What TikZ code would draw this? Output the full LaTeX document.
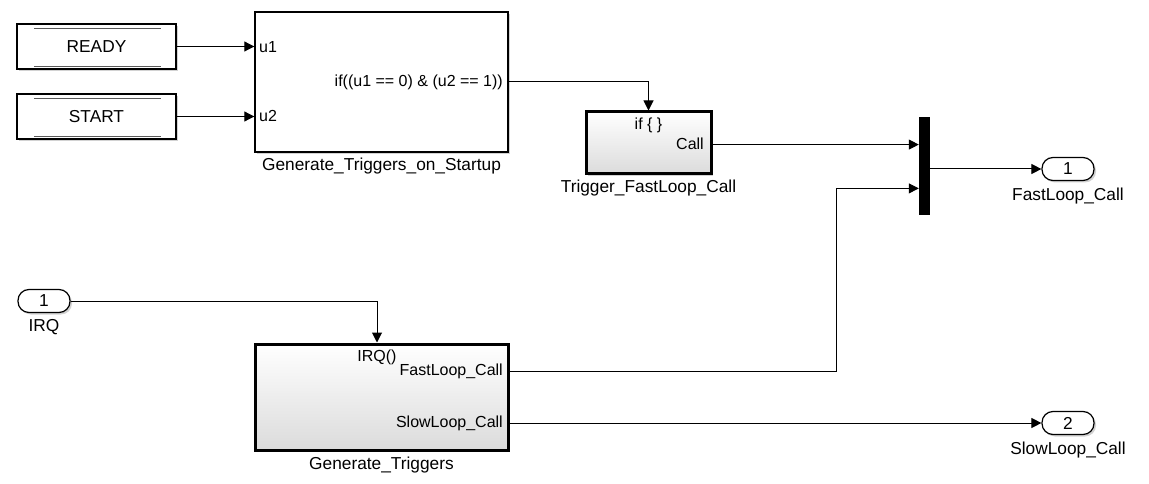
\documentclass[tikz,border=0pt]{standalone}
\usepackage{fontspec}
\setmainfont{Liberation Sans}
\usepackage{tikz}
\usetikzlibrary{arrows.meta,positioning,calc,shadows}
\tikzset{
  sfont/.style  ={font=\fontsize{16}{19}\selectfont},
  bfont/.style  ={font=\fontsize{17.3}{20}\selectfont},
  shd/.style    ={drop shadow={shadow xshift=2pt, shadow yshift=-2pt,
                  opacity=0.35, fill=gray}},
  fromblk/.style={draw, line width=1.4pt, fill=white, shd, bfont,
                  minimum width=159pt, minimum height=45pt, inner sep=0pt},
  mainblk/.style={draw, line width=1.4pt, fill=white, shd,
                  minimum width=#1, inner sep=0pt},
  mainblk/.default=253pt,
  subblk/.style ={draw, line width=3pt, top color=white,
                  bottom color=gray!28, shd, inner sep=0pt},
  muxbar/.style ={draw, fill=black, minimum width=10pt,
                  minimum height=97pt, inner sep=0pt},
  portblk/.style={draw, line width=1.2pt, rounded corners=11pt, fill=white,
                  shd, bfont, minimum width=52pt, minimum height=23pt,
                  inner sep=0pt},
  ptxt/.style   ={sfont, inner sep=0pt},
  lbl/.style    ={bfont, inner sep=1pt},
  arr/.style    ={-{Triangle[length=10pt,width=10pt]}, line width=1pt},
  ln/.style     ={line width=1pt},
}
\begin{document}
\begin{tikzpicture}[x=1pt,y=-1pt]
  \useasboundingbox[fill=white] (0,0) rectangle (1149,484);
  % source blocks
  \node[fromblk] (ready) at (96.5,46.5) {READY};
  \node[fromblk] (start) at (96.5,116.5) {START};
  \foreach \b in {ready,start}{
    \draw[gray!70!black, line width=1.4pt]
      ($(\b.north west)+(18,5)$) -- ($(\b.north east)+(-16,5)$);
    \draw[gray!70!black, line width=1.4pt]
      ($(\b.south west)+(18,-3)$) -- ($(\b.south east)+(-16,-3)$);
  }
  % startup trigger block
  \node[mainblk, minimum height=140pt] (startup) at (381.5,82) {};
  \node[ptxt, anchor=west] (u1txt) at (259,47) {u1};
  \node[ptxt, anchor=west] (u2txt) at (259,116) {u2};
  \node[ptxt, anchor=east] (iftxt) at (503,82) {if((u1 == 0) \& (u2 == 1))};
  \node[lbl, below=4pt of startup] (startuplbl) {Generate\_Triggers\_on\_Startup};
  % if action block
  \node[subblk, minimum width=125pt, minimum height=62pt] (trig) at (648.5,143) {};
  \node[ptxt, anchor=north] (iftop) at ($(trig.north)+(0,7)$) {if \{ \}};
  \node[ptxt, anchor=east] (calltxt) at (704,144) {Call};
  \node[lbl, below=3pt of trig] (triglbl) {Trigger\_FastLoop\_Call};
  % mux
  \node[muxbar] (mux) at (924,166) {};
  \coordinate (muxin1) at ($(mux.north west)!0.28!(mux.south west)$);
  \coordinate (muxin2) at ($(mux.north west)!0.73!(mux.south west)$);
  % ports
  \node[portblk] (irq) at (44,301) {1};
  \node[lbl, below=5pt of irq] (irqlbl) {IRQ};
  \node[portblk] (out1) at (1068,169) {1};
  \node[lbl, below=6pt of out1] (out1lbl) {FastLoop\_Call};
  \node[portblk] (out2) at (1068,423) {2};
  \node[lbl, below=6pt of out2] (out2lbl) {SlowLoop\_Call};
  % interrupt subsystem
  \node[subblk, minimum width=253pt, minimum height=106pt] (gen) at (381.5,397) {};
  \node[ptxt] (irqtxt) at (377,357) {IRQ()};
  \node[ptxt, anchor=east] (fasttxt) at (503,371) {FastLoop\_Call};
  \node[ptxt, anchor=east] (slowtxt) at (503,423) {SlowLoop\_Call};
  \node[lbl, below=4pt of gen] (genlbl) {Generate\_Triggers};
  % connectors
  \coordinate (bend) at (836,0);
  \draw[arr] (ready) -- (ready -| startup.west);
  \draw[arr] (start) -- (start -| startup.west);
  \draw[arr] (startup.east |- iftxt) -| (trig.north);
  \draw[arr] (trig.east |- muxin1) -- (muxin1);
  \draw[arr] (gen.east |- fasttxt) -| (bend |- muxin2) -- (muxin2);
  \draw[arr] (mux.east |- out1) -- (out1.west);
  \draw[arr] (gen.east |- out2) -- (out2.west);
  \draw[arr] (irq.east) -| (irqtxt |- gen.north);
\end{tikzpicture}
\end{document}
